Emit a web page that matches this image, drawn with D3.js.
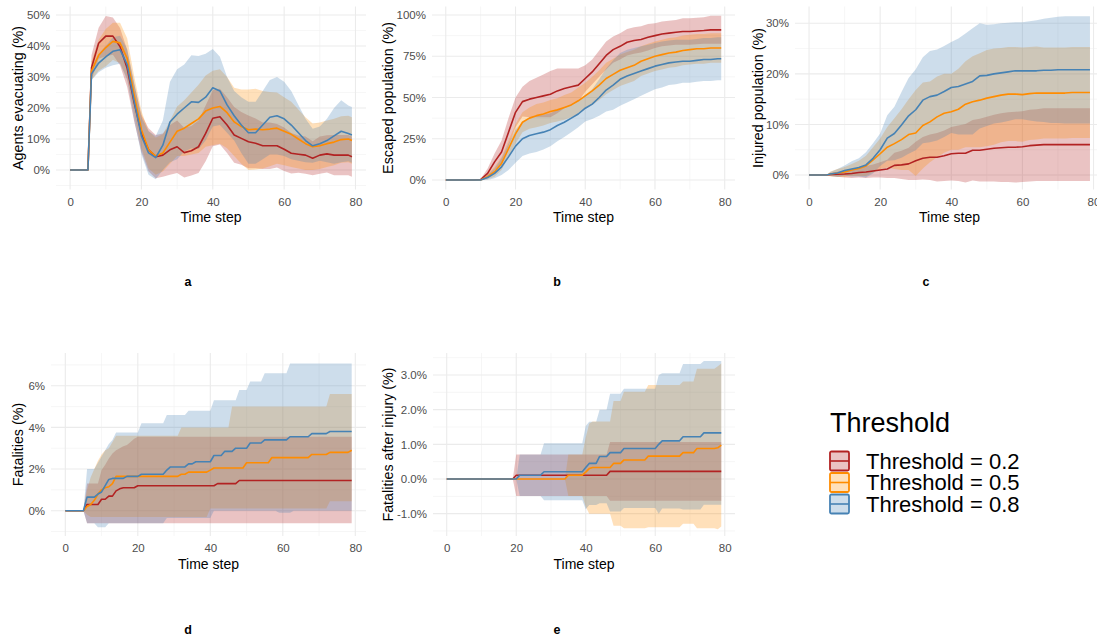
<!DOCTYPE html>
<html>
<head>
<meta charset="utf-8">
<title>Threshold comparison</title>
<style>
  html, body { margin: 0; padding: 0; background: #fff; }
  svg { display: block; font-family: "Liberation Sans", Arial, Helvetica, sans-serif; }
</style>
</head>
<body>
<svg id="chart" width="1097" height="640"></svg>

<script src="https://cdn.jsdelivr.net/npm/d3@7/dist/d3.min.js"></script>
<script>

// series names (legend)
const thresholds = ['Threshold = 0.2', 'Threshold = 0.5', 'Threshold = 0.8'];

// time steps (a, b, c)
const stepsCoarse = [0,5,6,8,10,12,14,16,18,20,22,24,26,28,30,32,34,36,38,40,
                     42,44,46,48,50,52,54,56,58,60,62,64,66,68,70,72,74,76,78,79];

// time steps for the step-like panels (d, e)
const stepsFine = [0,1,2,3,4,5,6,7,8,9,10,11,12,13,14,15,16,17,18,19,
                   20,21,22,23,24,25,26,27,28,29,30,31,32,33,34,35,36,37,38,39,
                   40,41,42,43,44,45,46,47,48,49,50,51,52,53,54,55,56,57,58,59,
                   60,61,62,63,64,65,66,67,68,69,70,71,72,73,74,75,76,77,78,79];

// a - agents evacuating (%), mean and sd
const evacMean02 = [0,0,33,40.9,43.2,43.2,39.8,32.8,21.5,11.8,6.5,4.3,4.8,6.5,7.5,5.6,6.2,7.5,11.8,16.7,
                    17.2,14.5,11.3,10.2,9.1,8.6,7.8,7.8,7.8,6.7,5.4,5.1,4.8,3.8,4.8,5.2,4.8,4.8,4.8,4.3];
const evacMean05 = [0,0,32,37,39.5,41.5,41,36,24,13,6.5,4.5,5.5,9,12.5,13.5,15,16.5,19,20,
                    20.5,18.5,15.5,14,13,13.2,13,13.2,13.5,12.5,11.5,10,8.5,7.5,7.8,8.5,9,9.8,10,9.5];
const evacMean08 = [0,0,31,34.5,36.5,38.3,38.8,34,22,11,5.5,4,8,15.5,18,20,22,21.8,23.5,26.5,
                    25.5,21,17.5,14.5,12,12,14.5,17,17.5,16.5,14.5,12,9.5,7.8,8.5,9.5,11,12.5,11.8,11.3];
const evacSd02 = [0,0,4,5,6.5,6,6,6,6,6,7,7,7,8,8.5,8,8,8.5,9,9,
                  9,9,9,8.5,8.5,8,7.5,7.5,7,7,6.5,6,6,5.5,6,6,6.5,6.5,6.5,6.5];
const evacSd05 = [0,0,3,5,6,6,6.5,6.5,6,6,6,6,6,7,8,9,10,11,11.5,12,
                  12,11.5,11,12,13,13,12.5,12,11.5,11,10.5,9.5,8.5,7.5,7.5,7.5,7.5,7.5,7.5,7.5];
const evacSd08 = [0,0,2,3,3.5,4.5,4.5,5,6,6,7,7,8,13,14.5,14,15,15,14,12.5,
                  11,9,8,9,10,10,11,12,12.5,12,11,9,7,5.5,5.5,7,9,10,9,9];

// b - escaped population (%)
const escMean02 = [0,0,0,0,0.3,4,11,17,29,41,47.5,49,50,51,52,54,55.5,56.5,57.5,61.5,
                   65.5,70.5,75.5,79,81,83.5,84.5,85.2,86.5,87.5,88.5,89,89.5,90,90,90.3,90.6,91,91,91];
const escMean05 = [0,0,0,0,0,2,5,10,19,28,35,37.5,39,40,41.5,42.5,44,45.5,48,51,
                   54,57.5,61.5,64,66.5,68,69.5,72,73.5,75,76,77,77.5,78.5,79,79.5,79.5,80,80,80];
const escMean08 = [0,0,0,0,0,1.5,4,8,14,20.5,25,27,28,29,30.5,33,35,37.5,40,43.5,
                   46,50,54.5,57.5,61,63,64.5,66,67.5,69,70,71,71.5,72,72,72.5,73,73,73.5,73.5];
const escSd02 = [0,0,0,0,0.3,3,5,7,8.5,9,9,11,12,13,14,13.5,12,11,10,8,
                 7.5,8,8.5,8,8,8,8,8,8,7.5,7.5,7.5,7.5,8,8,8,8,8.5,8.5,8.5];
const escSd05 = [0,0,0,0,0,1.5,3,4,5,6,6,6.5,7,7,7,7,7.5,7.5,8,8,
                 8.5,9,9.5,9.5,9.5,9.5,9.5,9,9,9,9,9,9,9,9,9,9,9,9,9];
const escSd08 = [0,0,0,0,0,1.5,3,5,8,10,10.5,11,11,10.5,10,9.5,9,8.5,8,8,
                 9,11,13,15,16,16,15.5,15,14.5,14,14,13.5,13.5,13,13,13,13,13,13,13];

// c - injured population (%)
const injMean02 = [0,0,0.1,0.15,0.2,0.3,0.5,0.6,0.8,1,1.2,1.9,2,2.2,2.8,3.3,3.5,3.5,3.8,4.2,
                   4.3,4.3,4.9,4.9,5.1,5.3,5.4,5.5,5.5,5.6,5.8,5.9,6,6,6,6,6,6,6,6];
const injMean05 = [0,0,0.2,0.4,0.6,1,1.3,1.8,3,4.2,5.5,6.2,7,8,8.3,9.8,10.5,11.5,12.2,12.5,
                   13,14,14.5,14.8,15.2,15.5,15.8,16,16,15.9,16.1,16.2,16.2,16.2,16.2,16.2,16.3,16.3,16.3,16.3];
const injMean08 = [0,0,0.2,0.4,0.9,1.2,1.5,2,3.3,5,7.3,8.2,9.9,11.7,12.9,14.8,15.5,15.8,16.5,17.3,
                   17.5,18,18.5,19.6,19.7,20,20.2,20.4,20.6,20.6,20.6,20.6,20.7,20.7,20.8,20.8,20.8,20.8,20.8,20.8];
const injSd02 = [0,0,0.3,0.5,0.7,0.9,1,1.2,1.3,1.5,1.8,2.5,2.8,3.2,3.8,4.2,4.5,4.8,5,5.3,
                 5.5,5.8,6,6.2,6.4,6.6,6.8,6.9,7,7,7.1,7.1,7.2,7.2,7.2,7.2,7.2,7.2,7.2,7.2];
const injSd05 = [0,0,0.5,0.8,1,1.2,1.5,2,2.5,3,4,5,6,7,8.5,8.5,8,8,7.8,7.5,
                 8,8.5,9,9.3,9.5,9.5,9.3,9.3,9.3,9.3,9.2,9.2,9,9,9,9,9,9,9,9];
const injSd08 = [0,0,0.4,0.8,1,1.5,1.8,2.5,3,3.2,4.5,5.3,6.5,7.5,8,8.5,9,9,9,9,
                 9.5,10,10.5,10.4,10,9.8,9.8,9.7,9.6,9.6,9.8,10,10.2,10.4,10.5,10.6,10.6,10.6,10.6,10.6];

// d - fatalities (%), mean with lower / upper band edges
const fatMean02 = [0,0,0,0,0,0,0.3,0.3,0.3,0.3,
                   0.55,0.55,0.7,0.7,0.95,1.05,1.1,1.1,1.1,1.1,
                   1.2,1.2,1.2,1.2,1.2,1.2,1.2,1.2,1.2,1.2,
                   1.2,1.2,1.2,1.2,1.2,1.2,1.2,1.2,1.2,1.2,
                   1.2,1.2,1.3,1.3,1.3,1.3,1.3,1.3,1.45,1.45,
                   1.45,1.45,1.45,1.45,1.45,1.45,1.45,1.45,1.45,1.45,
                   1.45,1.45,1.45,1.45,1.45,1.45,1.45,1.45,1.45,1.45,
                   1.45,1.45,1.45,1.45,1.45,1.45,1.45,1.45,1.45,1.45];
const fatMean05 = [0,0,0,0,0,0,0.2,0.3,0.5,0.8,
                   1.0,1.1,1.15,1.3,1.65,1.65,1.65,1.65,1.65,1.65,
                   1.65,1.65,1.65,1.65,1.65,1.65,1.65,1.65,1.65,1.65,
                   1.65,1.65,1.75,1.75,1.85,1.85,1.85,1.85,1.85,1.85,
                   1.95,2.05,2.05,2.05,2.05,2.05,2.05,2.05,2.05,2.05,
                   2.3,2.3,2.3,2.3,2.3,2.3,2.3,2.55,2.55,2.55,
                   2.55,2.55,2.55,2.55,2.55,2.55,2.55,2.55,2.7,2.7,
                   2.7,2.7,2.7,2.8,2.8,2.8,2.8,2.8,2.8,2.9];
const fatMean08 = [0,0,0,0,0,0,0.65,0.65,0.65,0.8,
                   0.9,1.2,1.5,1.55,1.55,1.55,1.55,1.65,1.65,1.65,
                   1.65,1.75,1.75,1.75,1.75,1.75,1.75,1.75,1.95,2.1,
                   2.1,2.1,2.1,2.1,2.25,2.25,2.35,2.35,2.35,2.35,
                   2.35,2.65,2.65,2.65,2.85,2.85,2.85,3.0,3.0,3.0,
                   3.0,3.25,3.25,3.25,3.25,3.4,3.4,3.4,3.4,3.4,
                   3.4,3.4,3.55,3.55,3.55,3.55,3.55,3.55,3.7,3.7,
                   3.7,3.7,3.7,3.8,3.8,3.8,3.8,3.8,3.8,3.8];
const fatLow02 = [0,0,0,0,0,0,-0.6,-0.6,-0.6,-0.6,
                  -0.6,-0.6,-0.6,-0.6,-0.6,-0.6,-0.6,-0.6,-0.6,-0.6,
                  -0.6,-0.6,-0.6,-0.6,-0.6,-0.6,-0.6,-0.6,-0.6,-0.6,
                  -0.6,-0.6,-0.6,-0.6,-0.6,-0.6,-0.6,-0.6,-0.6,-0.6,
                  -0.6,-0.6,-0.6,-0.6,-0.6,-0.6,-0.6,-0.6,-0.6,-0.6,
                  -0.6,-0.6,-0.6,-0.6,-0.6,-0.6,-0.6,-0.6,-0.6,-0.6,
                  -0.6,-0.6,-0.6,-0.6,-0.6,-0.6,-0.6,-0.6,-0.6,-0.6,
                  -0.6,-0.6,-0.6,-0.6,-0.6,-0.6,-0.6,-0.6,-0.6,-0.6];
const fatHigh02 = [0,0,0,0,0,0,1.3,1.3,1.3,1.3,
                   1.95,2.2,2.5,2.75,2.9,3.0,3.1,3.15,3.3,3.45,
                   3.55,3.55,3.55,3.55,3.55,3.55,3.55,3.55,3.55,3.55,
                   3.55,3.55,3.55,3.55,3.55,3.55,3.55,3.55,3.55,3.55,
                   3.55,3.55,3.55,3.55,3.55,3.55,3.55,3.55,3.55,3.55,
                   3.55,3.55,3.55,3.55,3.55,3.55,3.55,3.55,3.55,3.55,
                   3.55,3.55,3.55,3.55,3.55,3.55,3.55,3.55,3.55,3.55,
                   3.55,3.55,3.55,3.55,3.55,3.55,3.55,3.55,3.55,3.55];
const fatLow05 = [0,0,0,0,0,0,-0.2,-0.3,-0.3,-0.3,
                  -0.3,-0.3,-0.3,-0.3,-0.3,-0.3,-0.3,-0.3,-0.3,-0.3,
                  -0.3,-0.3,-0.3,-0.3,-0.3,-0.3,-0.3,-0.3,-0.3,-0.3,
                  -0.3,-0.3,-0.3,-0.3,-0.3,-0.3,-0.3,-0.3,-0.3,-0.3,
                  0.1,0.1,0.1,0.1,0.1,0.1,0.1,0.1,0.1,0.1,
                  0.1,0.1,0.1,0.1,0.1,0.1,0.1,0.1,0.1,0.1,
                  0.1,0.1,0.1,0.1,0.1,0.1,0.1,0.1,0.1,0.1,
                  0.1,0.1,0.1,0.45,0.45,0.45,0.45,0.45,0.45,0.45];
const fatHigh05 = [0,0,0,0,0,0,1.0,1.6,2.0,2.4,
                   2.7,2.9,3.0,3.3,3.6,3.6,3.6,3.6,3.6,3.6,
                   3.6,3.6,3.6,3.6,3.6,3.6,3.6,3.6,3.6,3.6,
                   3.6,3.6,4.0,4.0,4.0,4.0,4.0,4.0,4.0,4.0,
                   4.0,4.0,4.0,4.0,4.0,4.0,5.0,5.0,5.0,5.0,
                   5.0,5.0,5.0,5.0,5.0,5.0,5.0,5.0,5.0,5.0,
                   5.0,5.0,5.0,5.0,5.0,5.0,5.0,5.0,5.0,5.0,
                   5.0,5.0,5.0,5.6,5.6,5.6,5.6,5.6,5.6,5.6];
const fatLow08 = [0,0,0,0,0,0,-0.6,-0.6,-0.6,-0.8,
                  -0.8,-0.8,-0.6,-0.6,-0.6,-0.6,-0.6,-0.6,-0.6,-0.6,
                  -0.6,-0.6,-0.6,-0.6,-0.6,-0.6,-0.6,-0.6,-0.35,-0.35,
                  -0.35,-0.35,-0.35,-0.35,-0.35,-0.35,-0.35,-0.35,-0.35,-0.35,
                  -0.35,0,0,0,0,0,0,0,0,0,
                  0,0,0,0,0,0,0,0,0,-0.1,
                  -0.1,-0.1,-0.1,0,0,0,0,0,0,0,
                  0,0,0,0,0,0,0,0,0,0];
const fatHigh08 = [0,0,0,0,0,0,2.0,2.0,2.0,2.3,
                   2.6,2.9,3.2,3.4,3.75,3.75,3.75,3.75,3.75,3.75,
                   3.75,4.2,4.2,4.2,4.2,4.2,4.2,4.2,4.6,4.6,
                   4.6,4.6,4.6,4.6,4.8,4.8,4.8,4.8,4.8,4.8,
                   4.8,5.3,5.3,5.3,5.3,5.3,5.3,5.3,5.8,5.8,
                   5.8,6.2,6.2,6.2,6.2,6.6,6.6,6.6,6.6,6.6,
                   6.6,6.6,7.07,7.07,7.07,7.07,7.07,7.07,7.07,7.07,
                   7.07,7.07,7.07,7.07,7.07,7.07,7.07,7.07,7.07,7.07];

// e - fatalities after injury (%), mean and sd
const fainMean02 = [0,0,0,0,0,0,0,0,0,0,
                    0,0,0,0,0,0,0,0,0,0,
                    0.11,0.11,0.11,0.11,0.11,0.11,0.11,0.11,0.11,0.11,
                    0.11,0.11,0.11,0.11,0.11,0.11,0.11,0.11,0.11,0.11,
                    0.11,0.11,0.11,0.11,0.11,0.11,0.11,0.22,0.22,0.22,
                    0.22,0.22,0.22,0.22,0.22,0.22,0.22,0.22,0.22,0.22,
                    0.22,0.22,0.22,0.22,0.22,0.22,0.22,0.22,0.22,0.22,
                    0.22,0.22,0.22,0.22,0.22,0.22,0.22,0.22,0.22,0.22];
const fainMean05 = [0,0,0,0,0,0,0,0,0,0,
                    0,0,0,0,0,0,0,0,0,0,
                    0,0,0,0,0,0,0,0,0,0,
                    0,0,0,0,0,0.11,0.11,0.11,0.11,0.11,
                    0.2,0.3,0.33,0.33,0.33,0.33,0.33,0.33,0.45,0.45,
                    0.45,0.55,0.55,0.55,0.55,0.55,0.55,0.55,0.66,0.66,
                    0.66,0.66,0.66,0.66,0.66,0.66,0.66,0.66,0.76,0.76,
                    0.76,0.76,0.88,0.88,0.88,0.88,0.88,0.88,0.9,0.98];
const fainMean08 = [0,0,0,0,0,0,0,0,0,0,
                    0,0,0,0,0,0,0,0,0,0,
                    0,0.11,0.11,0.11,0.11,0.11,0.11,0.11,0.21,0.21,
                    0.21,0.21,0.21,0.21,0.21,0.21,0.21,0.21,0.21,0.21,
                    0.33,0.45,0.45,0.45,0.65,0.65,0.65,0.76,0.76,0.76,
                    0.76,0.88,0.88,0.88,0.88,0.88,0.88,0.88,0.88,0.88,
                    0.88,1.0,1.1,1.1,1.1,1.1,1.1,1.1,1.22,1.22,
                    1.22,1.22,1.22,1.22,1.33,1.33,1.33,1.33,1.33,1.33];
const fainSd02 = [0,0,0,0,0,0,0,0,0,0,
                  0,0,0,0,0,0,0,0,0,0,
                  0.6,0.6,0.6,0.6,0.6,0.6,0.6,0.6,0.6,0.6,
                  0.6,0.6,0.6,0.6,0.6,0.6,0.6,0.6,0.6,0.6,
                  0.6,0.6,0.6,0.6,0.6,0.6,0.6,0.85,0.85,0.85,
                  0.85,0.85,0.85,0.85,0.85,0.85,0.85,0.85,0.85,0.85,
                  0.85,0.85,0.85,0.85,0.85,0.85,0.85,0.85,0.85,0.85,
                  0.85,0.85,0.85,0.85,0.85,0.85,0.85,0.85,0.85,0.85];
const fainSd05 = [0,0,0,0,0,0,0,0,0,0,
                  0,0,0,0,0,0,0,0,0,0,
                  0,0,0,0,0,0,0,0,0,0,
                  0,0,0,0,0,0.6,0.6,0.6,0.6,0.6,
                  1.0,1.3,1.33,1.33,1.33,1.33,1.33,1.33,1.8,1.8,
                  1.8,1.97,1.97,1.97,1.97,1.97,1.97,1.97,2.05,2.05,
                  2.05,2.05,2.05,2.05,2.05,2.05,2.05,2.05,2.05,2.05,
                  2.05,2.05,2.3,2.3,2.3,2.3,2.3,2.3,2.35,2.35];
const fainSd08 = [0,0,0,0,0,0,0,0,0,0,
                  0,0,0,0,0,0,0,0,0,0,
                  0,0.6,0.6,0.6,0.6,0.6,0.6,0.6,0.82,0.82,
                  0.82,0.82,0.82,0.82,0.82,0.82,0.82,0.82,0.82,0.82,
                  1.2,1.2,1.2,1.2,1.35,1.35,1.35,1.7,1.7,1.7,
                  1.7,1.72,1.72,1.72,1.72,1.72,1.72,1.72,1.72,1.72,
                  1.72,2.0,1.95,1.95,1.95,1.95,1.95,1.95,2.1,2.1,
                  2.1,2.1,2.1,2.1,2.07,2.07,2.07,2.07,2.07,2.07];

// axis ticks
const xTicks = [0, 20, 40, 60, 80];
const xMinor = [10, 30, 50, 70];

const colors = ['#B22222', '#FF8C00', '#4682B4'];

const svg = d3.select('#chart');

// band edges from mean and sd
const lowOf = (m, s) => m.map((v, i) => v - s[i]);
const highOf = (m, s) => m.map((v, i) => v + s[i]);

// one config per panel: pixel box, y domain and what to draw
const panels = [
  {letter: 'a', title: 'Agents evacuating (%)', steps: stepsCoarse,
   means: [evacMean02, evacMean05, evacMean08],
   lows: [lowOf(evacMean02, evacSd02), lowOf(evacMean05, evacSd05), lowOf(evacMean08, evacSd08)],
   highs: [highOf(evacMean02, evacSd02), highOf(evacMean05, evacSd05), highOf(evacMean08, evacSd08)],
   left: 56, right: 366, top: 6.5, bottom: 189.5, yDomain: [-6.29, 52.74],
   yTicks: [0,10,20,30,40,50], yMinor: [-5,5,15,25,35,45], fmt: d => d + '%', titleX: 18},
  {letter: 'b', title: 'Escaped population (%)', steps: stepsCoarse,
   means: [escMean02, escMean05, escMean08],
   lows: [lowOf(escMean02, escSd02), lowOf(escMean05, escSd05), lowOf(escMean08, escSd08)],
   highs: [highOf(escMean02, escSd02), highOf(escMean05, escSd05), highOf(escMean08, escSd08)],
   left: 432, right: 735, top: 6.5, bottom: 189.5, yDomain: [-5.76, 105.15],
   yTicks: [0,25,50,75,100], yMinor: [12.5,37.5,62.5,87.5], fmt: d => d + '%', titleX: 388},
  {letter: 'c', title: 'Injured population (%)', steps: stepsCoarse,
   means: [injMean02, injMean05, injMean08],
   lows: [lowOf(injMean02, injSd02), lowOf(injMean05, injSd05), lowOf(injMean08, injSd08)],
   highs: [highOf(injMean02, injSd02), highOf(injMean05, injSd05), highOf(injMean08, injSd08)],
   left: 795, right: 1104, top: 6.5, bottom: 189.5, yDomain: [-2.867, 33.32],
   yTicks: [0,10,20,30], yMinor: [5,15,25], fmt: d => d + '%', titleX: 758},
  {letter: 'd', title: 'Fatalities (%)', steps: stepsFine,
   means: [fatMean02, fatMean05, fatMean08],
   lows: [fatLow02, fatLow05, fatLow08],
   highs: [fatHigh02, fatHigh05, fatHigh08],
   left: 51, right: 366, top: 353, bottom: 536, yDomain: [-1.215, 7.571],
   yTicks: [0,2,4,6], yMinor: [-1,1,3,5,7], fmt: d => d + '%', titleX: 18},
  {letter: 'e', title: 'Fatalities after injury (%)', steps: stepsFine,
   means: [fainMean02, fainMean05, fainMean08],
   lows: [lowOf(fainMean02, fainSd02), lowOf(fainMean05, fainSd05), lowOf(fainMean08, fainSd08)],
   highs: [highOf(fainMean02, fainSd02), highOf(fainMean05, fainSd05), highOf(fainMean08, fainSd08)],
   left: 433, right: 735, top: 353, bottom: 536, yDomain: [-1.644, 3.634],
   yTicks: [-1,0,1,2,3], yMinor: [-1.5,-0.5,0.5,1.5,2.5,3.5], fmt: d => d.toFixed(1) + '%', titleX: 388}
];

function drawPanel(p) {
  const x = d3.scaleLinear().domain([-3.95, 82.95]).range([p.left, p.right]);
  const y = d3.scaleLinear().domain(p.yDomain).range([p.bottom, p.top]);
  const g = svg.append('g');

  // minor grid
  g.selectAll('.vminor').data(xMinor).enter().append('line')
    .attr('x1', d => x(d)).attr('x2', d => x(d))
    .attr('y1', p.top).attr('y2', p.bottom)
    .style('stroke', '#F2F2F2').style('stroke-width', 0.7);
  g.selectAll('.hminor').data(p.yMinor).enter().append('line')
    .attr('x1', p.left).attr('x2', p.right)
    .attr('y1', d => y(d)).attr('y2', d => y(d))
    .style('stroke', '#F2F2F2').style('stroke-width', 0.7);

  // major grid
  g.selectAll('.vmajor').data(xTicks).enter().append('line')
    .attr('x1', d => x(d)).attr('x2', d => x(d))
    .attr('y1', p.top).attr('y2', p.bottom)
    .style('stroke', '#EBEBEB').style('stroke-width', 1.1);
  g.selectAll('.hmajor').data(p.yTicks).enter().append('line')
    .attr('x1', p.left).attr('x2', p.right)
    .attr('y1', d => y(d)).attr('y2', d => y(d))
    .style('stroke', '#EBEBEB').style('stroke-width', 1.1);

  const series = p.means.map((m, i) =>
    p.steps.map((t, j) => ({t: t, m: m[j], lo: p.lows[i][j], hi: p.highs[i][j]})));

  const area = d3.area()
    .x(d => x(d.t))
    .y0(d => y(d.lo))
    .y1(d => y(d.hi));

  const line = d3.line()
    .x(d => x(d.t))
    .y(d => y(d.m));

  series.forEach((s, i) => {
    g.append('path').attr('d', area(s))
      .style('fill', colors[i]).style('fill-opacity', 0.27).style('stroke', 'none');
  });
  series.forEach((s, i) => {
    g.append('path').attr('d', line(s))
      .style('fill', 'none').style('stroke', colors[i])
      .style('stroke-width', 1.6).style('stroke-linejoin', 'round');
  });

  // axes
  const xAxis = g.append('g')
    .attr('transform', 'translate(0,' + p.bottom + ')')
    .call(d3.axisBottom(x).tickValues(xTicks).tickSize(0).tickPadding(8));
  const yAxis = g.append('g')
    .attr('transform', 'translate(' + p.left + ',0)')
    .call(d3.axisLeft(y).tickValues(p.yTicks).tickFormat(p.fmt).tickSize(0).tickPadding(6));
  [xAxis, yAxis].forEach(a => {
    a.select('.domain').remove();
    a.selectAll('text')
      .style('font-family', '"Liberation Sans", Arial, sans-serif')
      .style('font-size', '11.5px')
      .style('fill', '#4D4D4D');
  });

  // axis titles
  g.append('text')
    .attr('x', (p.left + p.right) / 2)
    .attr('y', p.bottom + 32.5)
    .attr('text-anchor', 'middle')
    .style('font-size', '14px')
    .style('fill', '#000')
    .text('Time step');

  g.append('text')
    .attr('transform', 'translate(' + p.titleX + ',' + ((p.top + p.bottom) / 2) + ') rotate(-90)')
    .attr('text-anchor', 'middle')
    .attr('dy', '0.35em')
    .style('font-size', '14.3px')
    .style('fill', '#000')
    .text(p.title);
}

panels.forEach(drawPanel);

// panel letters
const letterPos = [[188, 286], [557, 286], [926, 286], [188, 634], [557, 634]];
svg.selectAll('.letter')
  .data(panels)
  .enter()
  .append('text')
  .attr('x', (d, i) => letterPos[i][0])
  .attr('y', (d, i) => letterPos[i][1])
  .attr('text-anchor', 'middle')
  .style('font-size', '12.5px')
  .style('font-weight', 'bold')
  .text(d => d.letter);

// legend
const legend = svg.append('g').attr('transform', 'translate(829,0)');
legend.append('text')
  .attr('x', 1).attr('y', 432)
  .style('font-size', '27px')
  .text('Threshold');

const items = legend.selectAll('.item')
  .data(thresholds)
  .enter()
  .append('g')
  .attr('transform', (d, i) => 'translate(0,' + (451 + i * 21.5) + ')');

items.append('rect')
  .attr('x', 1).attr('y', 0.5)
  .attr('width', 19).attr('height', 19)
  .attr('rx', 1.5)
  .style('fill', (d, i) => colors[i]).style('fill-opacity', 0.27)
  .style('stroke', (d, i) => colors[i]).style('stroke-width', 1.8);
items.append('line')
  .attr('x1', 1).attr('x2', 20)
  .attr('y1', 10).attr('y2', 10)
  .style('stroke', (d, i) => colors[i]).style('stroke-width', 1.6);
items.append('text')
  .attr('x', 37).attr('y', 10)
  .attr('dy', '0.36em')
  .style('font-size', '22px')
  .text(d => d);

</script>
</body>
</html>
